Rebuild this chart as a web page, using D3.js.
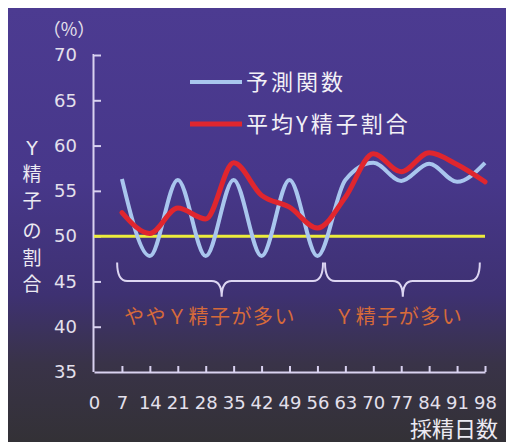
<!DOCTYPE html>
<html><head><meta charset="utf-8">
<script src="https://cdn.jsdelivr.net/npm/d3@7"></script>
<style>
html,body{margin:0;padding:0;background:#fff;}
svg{display:block;}
</style></head>
<body>
<svg id="c" width="506" height="442"></svg>
<script>
const days = [7,14,21,28,35,42,49,56,63,70,77,84,91,98];
const predicted = [56.3,47.8,56.2,47.8,56.2,47.8,56.2,47.8,56.2,58.1,56.1,58.0,56.0,58.1];
const meanY = [52.6,50.3,53.1,51.9,58.1,54.5,53.2,50.9,54.3,59.1,57.1,59.2,57.9,56.0];
const seriesNames = ["予測関数","平均Y精子割合"];
const xTicks = [0,7,14,21,28,35,42,49,56,63,70,77,84,91,98];
const yTicks = [35,40,45,50,55,60,65,70];
const refLine = 50;
const yTitle = ["Y","精","子","の","割","合"];
const xTitle = "採精日数";
const unitLabel = "（%）";
const notes = ["ややＹ精子が多い","Ｙ精子が多い"];
const braces = [[5.8,57.4,32],[57.9,96.7,77.4]];

const svg = d3.select("#c");
const defs = svg.append("defs");
const g = defs.append("linearGradient").attr("id","bg").attr("x1",0).attr("y1",0).attr("x2",0).attr("y2",1);
[["0%","#4c3b91"],["40%","#47378a"],["66%","#3e3172"],["82%","#393348"],["100%","#333136"]]
  .forEach(([o,c])=>g.append("stop").attr("offset",o).attr("stop-color",c));
svg.append("rect").attr("x",8).attr("y",8).attr("width",498).attr("height",434).attr("fill","url(#bg)");

const x = d3.scaleLinear().domain([0,98]).range([94,485]);
const y = d3.scaleLinear().domain([35,70]).range([372,55]);
const axisColor = "#d9d2f0";
const num = "'DejaVu Sans', sans-serif";
const cjk = "'Noto Sans CJK JP', sans-serif";

// axes
const ya = svg.append("g").attr("transform",`translate(${x(0)},0)`)
  .call(d3.axisLeft(y).tickValues(yTicks.filter(v=>v>35)).tickSizeInner(-7).tickSizeOuter(0).tickPadding(17));
const ya2 = svg.append("g").attr("transform",`translate(${x(0)},0)`)
  .call(d3.axisLeft(y).tickValues([35]).tickSize(0).tickPadding(17));
ya2.select(".domain").remove();
const xa = svg.append("g").attr("transform",`translate(0,${y(35)})`)
  .call(d3.axisBottom(x).tickValues(xTicks).tickSizeInner(-6).tickSizeOuter(0).tickPadding(24));
xa.selectAll(".tick").filter(d=>d===0).select("line").remove();
[ya,ya2,xa].forEach(a=>{
  a.selectAll("path,line").attr("stroke",axisColor).attr("stroke-width",2);
  a.selectAll("text").attr("fill","#e4e0ec").attr("font-family",num).attr("font-size",18);
});
ya.select(".domain").attr("d",`M0,${y(70)}H-0.5V${y(35)}`);

// reference line
svg.append("line").attr("x1",x(0)).attr("x2",x(98)).attr("y1",y(refLine)).attr("y2",y(refLine))
  .attr("stroke","#ecec3c").attr("stroke-width",3);

// series
const line = d3.line().x((d,i)=>x(days[i])).y(d=>y(d)).curve(d3.curveMonotoneX);
svg.append("path").datum(predicted).attr("d",line).attr("fill","none")
  .attr("stroke","#a9c6ee").attr("stroke-width",4).attr("stroke-linejoin","round");
svg.append("path").datum(meanY).attr("d",line).attr("fill","none")
  .attr("stroke","#e0262e").attr("stroke-width",5).attr("stroke-linejoin","round").attr("stroke-linecap","round");

// legend
const legColors = ["#a9c6ee","#e0262e"];
seriesNames.forEach((n,i)=>{
  const ly = 82 + i*42;
  svg.append("line").attr("x1",190).attr("x2",242).attr("y1",ly).attr("y2",ly)
    .attr("stroke",legColors[i]).attr("stroke-width",i?5:4);
  svg.append("text").attr("x",246).attr("y",ly).attr("dy","0.36em").text(n)
    .attr("fill","#f2f0f6").attr("font-family",cjk).attr("font-size",22).attr("letter-spacing",3);
});

// braces
braces.forEach(([a,b,m])=>{
  const x1=x(a), x2=x(b), xm=x(m), y0=y(47.1), y1=y(45.05), y2=y(43.3), r=10;
  const p = `M${x1},${y0}Q${x1},${y1} ${x1+r},${y1}L${xm-r},${y1}Q${xm},${y1} ${xm},${y2}Q${xm},${y1} ${xm+r},${y1}L${x2-r},${y1}Q${x2},${y1} ${x2},${y0}`;
  svg.append("path").attr("d",p).attr("fill","none").attr("stroke","#ddd6f2").attr("stroke-width",2);
});
svg.append("text").attr("x",x(7.5)).attr("y",y(41.1)).attr("dy","0.35em").text(notes[0])
  .attr("fill","#d66a3a").attr("font-family",cjk).attr("font-size",20).attr("letter-spacing",1.5);
svg.append("text").attr("x",x(60.2)).attr("y",y(41.1)).attr("dy","0.35em").text(notes[1])
  .attr("fill","#d66a3a").attr("font-family",cjk).attr("font-size",20).attr("letter-spacing",1.5);

// titles
svg.append("text").attr("x",69).attr("y",30).attr("dy","0.35em").attr("text-anchor","middle").text(unitLabel)
  .attr("fill","#e4e0ec").attr("font-family",cjk).attr("font-size",18);
const ty = [148,174,201,231,258,284];
yTitle.forEach((c,i)=>svg.append("text").attr("x",32).attr("y",ty[i]).attr("dy","0.36em").attr("text-anchor","middle")
  .text(c).attr("fill","#eceaf2").attr("font-family",c==="Y"?num:cjk).attr("font-size",19));
svg.append("text").attr("x",498).attr("y",429).attr("dy","0.36em").attr("text-anchor","end").text(xTitle)
  .attr("fill","#eceaf2").attr("font-family",cjk).attr("font-size",22);
</script>
</body></html>
